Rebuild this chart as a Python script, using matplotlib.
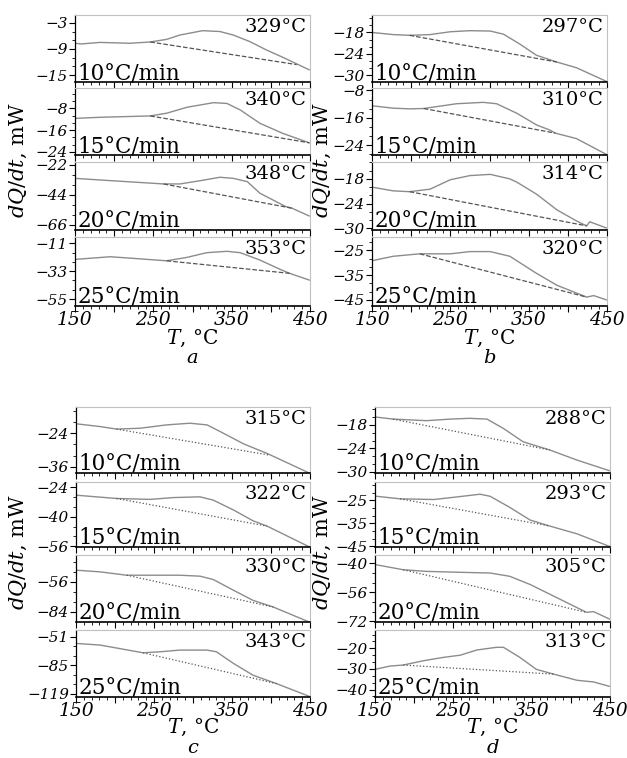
import matplotlib
matplotlib.use("Agg")
import matplotlib.pyplot as plt
from matplotlib.ticker import MultipleLocator, AutoMinorLocator

plt.rcParams["font.family"] = ["DejaVu Serif"]
plt.rcParams["mathtext.fontset"] = "dejavuserif"

W, H = 627, 758

rates = ["10°C/min", "15°C/min", "20°C/min", "25°C/min"]

# ---- panel a ----
a_peaks = ["329°C", "340°C", "348°C", "353°C"]
a_ticks = [[-3, -9, -15], [-8, -16, -24], [-22, -44, -66], [-11, -33, -55]]
a_ylims = [(-16.6, -1.2), (-25.2, -0.5), (-69.7, -19.8), (-60.5, -6.0)]
a1_T = [150, 158, 182, 220, 246, 267, 284, 313, 335, 352, 373, 394, 415, 449]
a1_Q = [-7.7, -7.85, -7.5, -7.7, -7.4, -6.8, -5.8, -4.8, -5.0, -5.8, -7.3, -9.2, -10.9, -13.8]
a2_T = [150, 182, 246, 267, 293, 327, 344, 361, 386, 415, 449]
a2_Q = [-11.7, -11.3, -10.8, -9.8, -7.6, -5.9, -6.2, -8.6, -13.5, -17.2, -20.7]
a3_T = [150, 182, 263, 284, 310, 335, 352, 370, 386, 419, 427, 449]
a3_Q = [-31.8, -33.0, -35.9, -35.9, -33.5, -31.0, -31.8, -34.2, -42.7, -52.5, -53.7, -59.4]
a4_T = [150, 195, 225, 267, 293, 318, 344, 361, 386, 412, 424, 449]
a4_Q = [-23.7, -21.6, -22.9, -24.8, -22.1, -18.4, -17.3, -18.4, -24.2, -31.6, -34.7, -40.0]
a_base = [((246, 433), (-7.4, -12.6)), ((246, 449), (-10.8, -20.7)),
          ((263, 427), (-35.9, -53.7)), ((267, 424), (-24.8, -34.7))]

# ---- panel b ----
b_peaks = ["297°C", "310°C", "314°C", "320°C"]
b_ticks = [[-18, -24, -30], [-8, -16, -24], [-18, -24, -30], [-25, -35, -45]]
b_ylims = [(-31.9, -13.1), (-26.9, -7.3), (-30.4, -13.9), (-47.5, -19.6)]
b1_T = [150, 177, 198, 224, 250, 275, 301, 318, 339, 360, 386, 411, 449]
b1_Q = [-18.0, -18.6, -18.8, -18.6, -17.8, -17.5, -17.6, -18.5, -21.3, -24.4, -26.3, -27.9, -31.7]
b2_T = [150, 177, 198, 216, 228, 258, 292, 309, 335, 360, 377, 384, 411, 449]
b2_Q = [-12.5, -13.2, -13.4, -13.3, -12.9, -11.9, -11.5, -11.9, -14.7, -18.1, -19.6, -20.5, -22.1, -26.7]
b3_T = [150, 177, 198, 224, 250, 275, 301, 326, 335, 360, 386, 411, 424, 428, 449]
b3_Q = [-20.0, -20.9, -21.1, -20.5, -18.2, -17.2, -16.9, -18.0, -18.8, -21.7, -25.5, -28.2, -29.4, -28.4, -29.9]
b4_T = [150, 177, 211, 250, 275, 301, 326, 360, 386, 424, 433, 449]
b4_Q = [-29.2, -27.4, -26.4, -26.4, -25.5, -25.5, -27.4, -34.3, -39.1, -43.9, -43.3, -45.0]
b_base = [((198, 386), (-18.8, -26.3)), ((216, 384), (-13.3, -20.5)),
          ((198, 424), (-21.1, -29.4)), ((211, 424), (-26.4, -43.9))]

# ---- panel c ----
c_peaks = ["315°C", "322°C", "330°C", "343°C"]
c_ticks = [[-12, -24, -36], [-24, -40, -56], [-28, -56, -84], [-51, -85, -119]]
c_ylims = [(-38.2, -14.6), (-56.5, -21.0), (-93.3, -31.0), (-123.0, -43.0)]
c1_T = [150, 181, 202, 232, 266, 296, 318, 335, 365, 395, 449]
c1_Q = [-20.6, -21.6, -22.5, -22.2, -21.0, -20.4, -21.0, -23.4, -27.8, -31.2, -38.2]
c2_T = [150, 202, 245, 275, 309, 326, 352, 377, 395, 449]
c2_Q = [-28.2, -30.0, -30.5, -29.5, -29.1, -30.9, -36.3, -42.2, -45.1, -56.4]
c3_T = [150, 181, 215, 245, 283, 309, 326, 352, 377, 403, 449]
c3_Q = [-45.1, -46.7, -49.8, -49.8, -49.8, -50.7, -53.8, -63.8, -73.2, -79.4, -93.3]
c4_T = [150, 181, 236, 258, 283, 318, 330, 352, 377, 407, 449]
c4_Q = [-59.0, -61.0, -70.2, -69.0, -67.0, -67.0, -69.0, -83.0, -97.0, -107.0, -122.2]
c_base = [((202, 398), (-22.5, -31.8)), ((202, 395), (-30.0, -45.1)),
          ((215, 403), (-49.8, -79.4)), ((236, 407), (-70.2, -107.0))]

# ---- panel d ----
d_peaks = ["288°C", "293°C", "305°C", "313°C"]
d_ticks = [[-18, -24, -30], [-25, -35, -45], [-40, -56, -72], [-20, -30, -40]]
d_ylims = [(-30.3, -13.4), (-45.3, -17.1), (-72.3, -35.5), (-43.6, -11.1)]
d1_T = [152, 173, 216, 246, 271, 293, 314, 339, 373, 408, 449]
d1_Q = [-16.0, -16.5, -16.9, -16.5, -16.3, -16.5, -18.9, -22.3, -24.4, -27.0, -29.7]
d2_T = [152, 182, 225, 254, 284, 297, 322, 348, 373, 408, 449]
d2_Q = [-23.3, -24.4, -24.7, -23.6, -22.4, -23.3, -28.1, -33.6, -36.2, -39.6, -45.0]
d3_T = [152, 186, 216, 259, 297, 322, 348, 382, 420, 429, 449]
d3_Q = [-40.9, -43.6, -44.5, -45.0, -45.4, -47.2, -51.7, -58.9, -67.0, -66.6, -70.6]
d4_T = [150, 169, 186, 212, 237, 259, 280, 305, 314, 335, 356, 378, 408, 429, 449]
d4_Q = [-30.2, -28.6, -28.1, -26.0, -24.4, -23.3, -20.8, -19.5, -19.5, -24.4, -30.2, -32.5, -35.5, -36.3, -38.4]
d_base = [((173, 373), (-16.5, -24.4)), ((182, 373), (-24.4, -36.2)),
          ((186, 420), (-43.6, -67.0)), ((186, 378), (-28.1, -32.5))]

panels = [
    ("a", 75, 310, [(15, 82), (88, 155), (162, 230), (237, 306)], a_peaks, a_ticks, a_ylims,
     [(a1_T, a1_Q), (a2_T, a2_Q), (a3_T, a3_Q), (a4_T, a4_Q)], a_base, "--", 18, 320, 338, 358),
    ("b", 372, 607, [(15, 82), (88, 155), (162, 230), (237, 306)], b_peaks, b_ticks, b_ylims,
     [(b1_T, b1_Q), (b2_T, b2_Q), (b3_T, b3_Q), (b4_T, b4_Q)], b_base, "--", 322, 320, 338, 358),
    ("c", 76, 310, [(407, 473), (482, 547), (555, 622), (630, 697)], c_peaks, c_ticks, c_ylims,
     [(c1_T, c1_Q), (c2_T, c2_Q), (c3_T, c3_Q), (c4_T, c4_Q)], c_base, ":", 18, 711, 727, 748),
    ("d", 375, 610, [(407, 473), (482, 547), (555, 622), (630, 697)], d_peaks, d_ticks, d_ylims,
     [(d1_T, d1_Q), (d2_T, d2_Q), (d3_T, d3_Q), (d4_T, d4_Q)], d_base, ":", 322, 711, 727, 748),
]

fig = plt.figure(figsize=(W / 100, H / 100), dpi=100)

for (letter, left, right, rows, peaks, ticks, ylims, curves, bases, bstyle,
     ylab_x, tick_y, tlab_y, letter_y) in panels:
    for i, (top, bot) in enumerate(rows):
        ax = fig.add_axes([left / W, 1 - bot / H, (right - left) / W, (bot - top) / H])
        T, Q = curves[i]
        ax.plot(T, Q, color="#8c8c8c", lw=1.0)
        (bx, by) = bases[i]
        ax.plot(bx, by, color="#555555", lw=0.9, linestyle=bstyle)
        ax.set_yticks(ticks[i])
        ax.set_yticklabels([f"\u2212{abs(t)}" for t in ticks[i]], fontstyle="italic", fontsize=11)
        ax.set_xlim(150, 450)
        ax.set_ylim(*ylims[i])
        ax.yaxis.set_minor_locator(AutoMinorLocator(3))
        ax.xaxis.set_major_locator(MultipleLocator(50))
        ax.xaxis.set_minor_locator(MultipleLocator(10))
        ax.tick_params(axis="y", which="major", direction="out", length=4, width=0.8, pad=1)
        ax.tick_params(axis="y", which="minor", direction="out", length=2.5, width=0.6)
        ax.tick_params(axis="x", which="major", direction="out", length=4, width=0.8)
        ax.tick_params(axis="x", which="minor", direction="out", length=2.5, width=0.6)
        ax.set_xticklabels([])
        for s in ("top", "right"):
            ax.spines[s].set_color("#c0c0c0")
        ax.spines["left"].set_linewidth(0.9)
        ax.spines["bottom"].set_linewidth(1.2)
        ax.text(0.985, 0.96, peaks[i], transform=ax.transAxes, ha="right", va="top",
                fontsize=14)
        ax.text(0.01, -0.03, rates[i], transform=ax.transAxes, ha="left", va="bottom",
                fontsize=15.5)
    # x tick labels under the last row
    for tv in (150, 250, 350, 450):
        fx = (left + (tv - 150) / 300 * (right - left)) / W
        fig.text(fx, 1 - tick_y / H, str(tv), ha="center", va="center",
                 fontsize=13.5, fontstyle="italic")
    cx = (left + right) / 2 / W
    fig.text(cx, 1 - tlab_y / H, r"$T$, °C", ha="center", va="center", fontsize=14.5)
    fig.text(cx, 1 - letter_y / H, letter, ha="center", va="center", fontsize=14,
             fontstyle="italic")
    mid = (rows[0][0] + rows[-1][1]) / 2
    fig.text(ylab_x / W, 1 - mid / H, r"$dQ/dt$, mW", rotation=90, ha="center",
             va="center", fontsize=15)

fig.savefig("out.png", dpi=100)
